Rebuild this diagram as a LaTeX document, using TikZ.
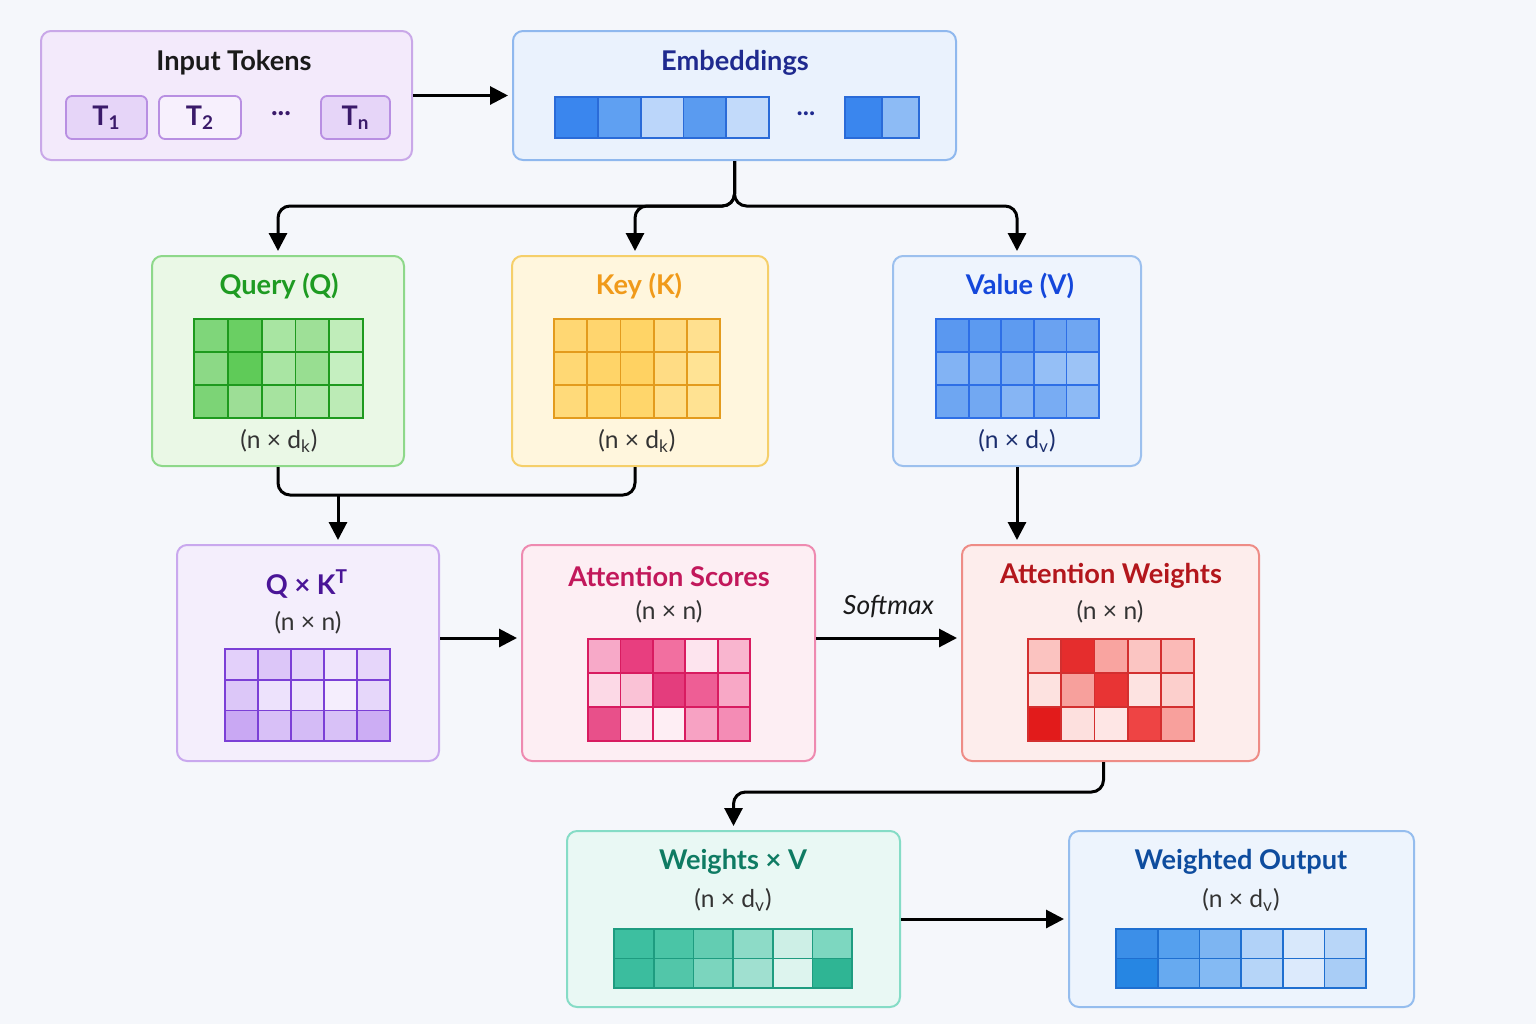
\documentclass[tikz,border=0pt]{standalone}
\usepackage{fontspec}
\setmainfont{Lato}
\usetikzlibrary{arrows.meta,calc}
\newcommand\hc[1]{\definecolor{HTML#1}{HTML}{#1}}
\hc{C9A8E8}\hc{F3EAFB}\hc{8FB8EE}\hc{EAF2FD}\hc{8ED88A}\hc{EAF8E6}\hc{F5CF6A}\hc{FFF6DD}
\hc{9CC0EE}\hc{EEF4FD}\hc{C9A8EE}\hc{F4EEFC}\hc{EE8AB0}\hc{FDEEF3}\hc{EE8C86}\hc{FDEDEC}
\hc{85DCC6}\hc{E9F8F4}\hc{95BDEE}\hc{EDF4FD}\hc{1A1A1A}\hc{1F2A8F}\hc{1E9B22}\hc{F09A1A}
\hc{1447DB}\hc{4A1597}\hc{C2185B}\hc{B3161C}\hc{0F7B63}\hc{0E4C9E}\hc{1B2E6E}\hc{F7F0FD}
\hc{2A6BD8}\hc{1E9A1E}\hc{E39B1D}\hc{2E6FE6}\hc{7B3FD6}\hc{D81B60}\hc{D32F2F}\hc{1E9C80}\hc{1F6FD0}
\definecolor{bgc}{HTML}{F5F7FB}
\definecolor{tokb}{HTML}{B88FE2}
\definecolor{tokf}{HTML}{E6D5F8}
\definecolor{tokt}{HTML}{3A1A6A}
\tikzset{
  box/.style={draw, rounded corners=5pt, line width=1pt, inner sep=0pt},
  ttl/.style={font=\fontsize{13.6}{15}\selectfont\bfseries, inner sep=0pt, anchor=center},
  sub/.style={font=\fontsize{12.3}{14}\selectfont, text=black!80, inner sep=0pt, anchor=center},
  tok/.style={draw=tokb, fill=tokf, rounded corners=3pt, line width=0.9pt, inner sep=0pt,
     font=\fontsize{13.5}{15}\selectfont\bfseries, text=tokt},
  conn/.style={line width=1.5pt, black, rounded corners=6pt},
  arr/.style={conn, -{Triangle[length=9pt,width=9pt]}, shorten >=2pt},
}
\newcommand\mygrid[7]{%
  \foreach \cc [count=\ii from 0] in {#7} {%
    \pgfmathtruncatemacro\gc{mod(\ii,#5)}%
    \pgfmathtruncatemacro\gr{div(\ii,#5)}%
    \edef\tmp{\noexpand\definecolor{tmpc}{HTML}{\cc}}\tmp
    \filldraw[fill=tmpc, draw=#6, line width=0.9pt] ({#1+\gc*#3},{#2+\gr*#4}) rectangle ++(#3,#4);
  }%
}
\begin{document}
\begin{tikzpicture}[x=0.5pt,y=-0.5pt]
\fill[bgc] (0,0) rectangle (1536,1024);
\useasboundingbox (0,0) rectangle (1536,1024);

% ---------- boxes ----------
\node[box, draw=HTMLC9A8E8, fill=HTMLF3EAFB, minimum width=185.5pt, minimum height=64.5pt] (inp) at (226.5,95.5) {};
\node[box, minimum width=221.5pt, minimum height=64.5pt, draw=HTML8FB8EE, fill=HTMLEAF2FD] (emb) at (734.5,95.5) {};
\node[box, minimum width=126pt, minimum height=105pt, draw=HTML8ED88A, fill=HTMLEAF8E6] (q) at (278,361) {};
\node[box, minimum width=128pt, minimum height=105pt, draw=HTMLF5CF6A, fill=HTMLFFF6DD] (k) at (640,361) {};
\node[box, minimum width=124pt, minimum height=105pt, draw=HTML9CC0EE, fill=HTMLEEF4FD] (v) at (1017,361) {};
\node[box, minimum width=131pt, minimum height=108pt, draw=HTMLC9A8EE, fill=HTMLF4EEFC] (qk) at (308,653) {};
\node[box, minimum width=146.5pt, minimum height=108pt, draw=HTMLEE8AB0, fill=HTMLFDEEF3] (sc) at (668.5,653) {};
\node[box, minimum width=148.5pt, minimum height=108pt, draw=HTMLEE8C86, fill=HTMLFDEDEC] (aw) at (1110.5,653) {};
\node[box, minimum width=166.5pt, minimum height=88pt, draw=HTML85DCC6, fill=HTMLE9F8F4] (wv) at (733.5,919) {};
\node[box, minimum width=172.5pt, minimum height=88pt, draw=HTML95BDEE, fill=HTMLEDF4FD] (out) at (1241.5,919) {};

% ---------- titles ----------
\node[ttl, text=HTML1A1A1A] (tinp) at (234,63) {Input Tokens};
\node[ttl, text=HTML1F2A8F] (temb) at (735,63) {Embeddings};
\node[ttl, text=HTML1E9B22] (tq) at (279,286) {Query (Q)};
\node[ttl, text=HTMLF09A1A] (tk) at (639,286) {Key (K)};
\node[ttl, text=HTML1447DB] (tv) at (1020,286) {Value (V)};
\node[ttl, text=HTML4A1597] (tqk) at (307,584) {Q × K\textsuperscript{T}};
\node[ttl, text=HTMLC2185B] (tsc) at (669,576) {Attention Scores};
\node[ttl, text=HTMLB3161C] (taw) at (1111,576) {Attention Weights};
\node[ttl, text=HTML0F7B63] (twv) at (733,862) {Weights × V};
\node[ttl, text=HTML0E4C9E] (tout) at (1241,862) {Weighted Output};

% ---------- sub labels ----------
\node[sub] (sq) at (279,441) {(n × d\textsubscript{k})};
\node[sub] (sk) at (637,441) {(n × d\textsubscript{k})};
\node[sub, text=HTML1B2E6E] (sv) at (1017,441) {(n × d\textsubscript{v})};
\node[sub] (sqk) at (308,623) {(n × n)};
\node[sub] (ssc) at (669,612) {(n × n)};
\node[sub] (saw) at (1110,612) {(n × n)};
\node[sub] (swv) at (733,900) {(n × d\textsubscript{v})};
\node[sub] (sout) at (1241,900) {(n × d\textsubscript{v})};

% ---------- tokens ----------
\node[tok, minimum width=40.5pt, minimum height=21.5pt] (t1) at (106.5,117.5) {T\textsubscript{1}};
\node[tok, fill=HTMLF7F0FD, minimum width=41pt, minimum height=21.5pt] (t2) at (200,117.5) {T\textsubscript{2}};
\node[font=\fontsize{14}{16}\selectfont\bfseries, text=tokt] (tdots) at (281,114) {...};
\node[tok, minimum width=34.5pt, minimum height=21.5pt] (tn) at (355.5,117.5) {T\textsubscript{n}};

% ---------- embedding strip ----------
\mygrid{555}{97}{42.8}{41}{5}{HTML2A6BD8}{3A86EE,5FA0F2,BBD6FA,5A9BF0,C2DAFA}
\node[font=\fontsize{13}{15}\selectfont\bfseries, text=HTML1F2A8F] (edots) at (806,114) {...};
\mygrid{845}{97}{37}{41}{2}{HTML2A6BD8}{3A86EE,8DBBF5}

% ---------- grids ----------
\mygrid{194}{319}{33.8}{33}{5}{HTML1E9A1E}{7FD67A,6ACF63,A8E5A2,9EE097,C0EDBA,8CD986,5FCB58,A9E5A3,98DE91,C5EFC0,7CD476,9DDE96,A6E39F,AEE6A8,BCEBB6}
\mygrid{554}{319}{33.2}{33}{5}{HTMLE39B1D}{FFD773,FFD56E,FFD466,FFDB80,FFE08F,FFD874,FFD468,FFD262,FFDC84,FFE394,FFDA7A,FFD86F,FFD66B,FFDF8A,FFE292}
\mygrid{936}{319}{32.6}{33}{5}{HTML2E6FE6}{5A98F0,5C9AF0,5E9BF0,6AA2F1,6FA6F2,82B3F4,7DAFF3,7AADF3,95BFF6,9CC3F6,6EA6F2,72A8F2,86B5F4,78ACF3,8DBAF5}
\mygrid{225}{649}{33}{30.7}{5}{HTML7B3FD6}{E3D0FA,DCC6F8,E4D3FA,EFE4FC,E6D6FA,DCC7F8,EDE2FC,EEE3FC,F5EEFD,E6D7FA,C9A8F3,D8C0F7,D4BBF6,D8C1F7,CCADF4}
\mygrid{588}{639}{32.4}{34}{5}{HTMLD81B60}{F7A9C8,E83E7F,F26FA0,FDE4EE,F9B5CF,FCD9E6,FAC2D6,E43D7D,EE5E95,F8A8C6,E8508A,FDE8F0,FEEEF4,F7A2C3,F48CB5}
\mygrid{1028}{639}{33.2}{34}{5}{HTMLD32F2F}{FBC3C0,E52D2D,F9A4A0,FBC5C2,FBBAB7,FDE2E0,F7A09C,E83434,FDE3E1,FCCFCC,E21B1B,FDE0DE,FEE6E5,EE4444,F8A09C}
\mygrid{614}{929}{39.7}{29.5}{6}{HTML1E9C80}{3DBFA0,4AC5A6,63CDB2,8DDBC7,CDEFE6,7DD7C0,3BBD9E,52C6A9,7BD5BE,A0E0D0,DDF4EE,2FB594}
\mygrid{1116}{929}{41.7}{29.5}{6}{HTML1F6FD0}{3C8FE8,55A0EE,7DB5F2,B1D2F8,D8E8FB,B8D6F8,2686E3,67AAF0,84BAF3,B6D5F8,DCEAFC,A9CDF6}

% ---------- connectors ----------
\coordinate (br) at (734,206);
\coordinate (j) at (338,495);
\coordinate (ar) at (0,638);
\coordinate (m) at (0,792);
\draw[arr] (inp.east) -- (emb.west);
\draw[arr] (emb.south) -- (emb.south |- br) -| (q.north);
\draw[arr] (emb.south) -- (emb.south |- br) -| ([xshift=-2.5pt]k.north);
\draw[arr] (emb.south) -- (emb.south |- br) -| (v.north);
\draw[conn] (q.south) |- (j) -| ([xshift=-2.5pt]k.south);
\draw[arr] (j) -- (j |- qk.north);
\draw[arr] (v.south) -- (v.south |- aw.north);
\draw[arr] (qk.east |- ar) -- (sc.west |- ar);
\draw[arr] (sc.east |- ar) -- node[above=6pt, font=\fontsize{13.2}{15}\selectfont\itshape, text=HTML1A1A1A] (smx) {Softmax} (aw.west |- ar);
\draw[arr] ([xshift=-3.5pt]aw.south) -- ([xshift=-3.5pt]aw.south |- m) -| (wv.north);
\draw[arr] (wv.east) -- (out.west);
\end{tikzpicture}
\end{document}
